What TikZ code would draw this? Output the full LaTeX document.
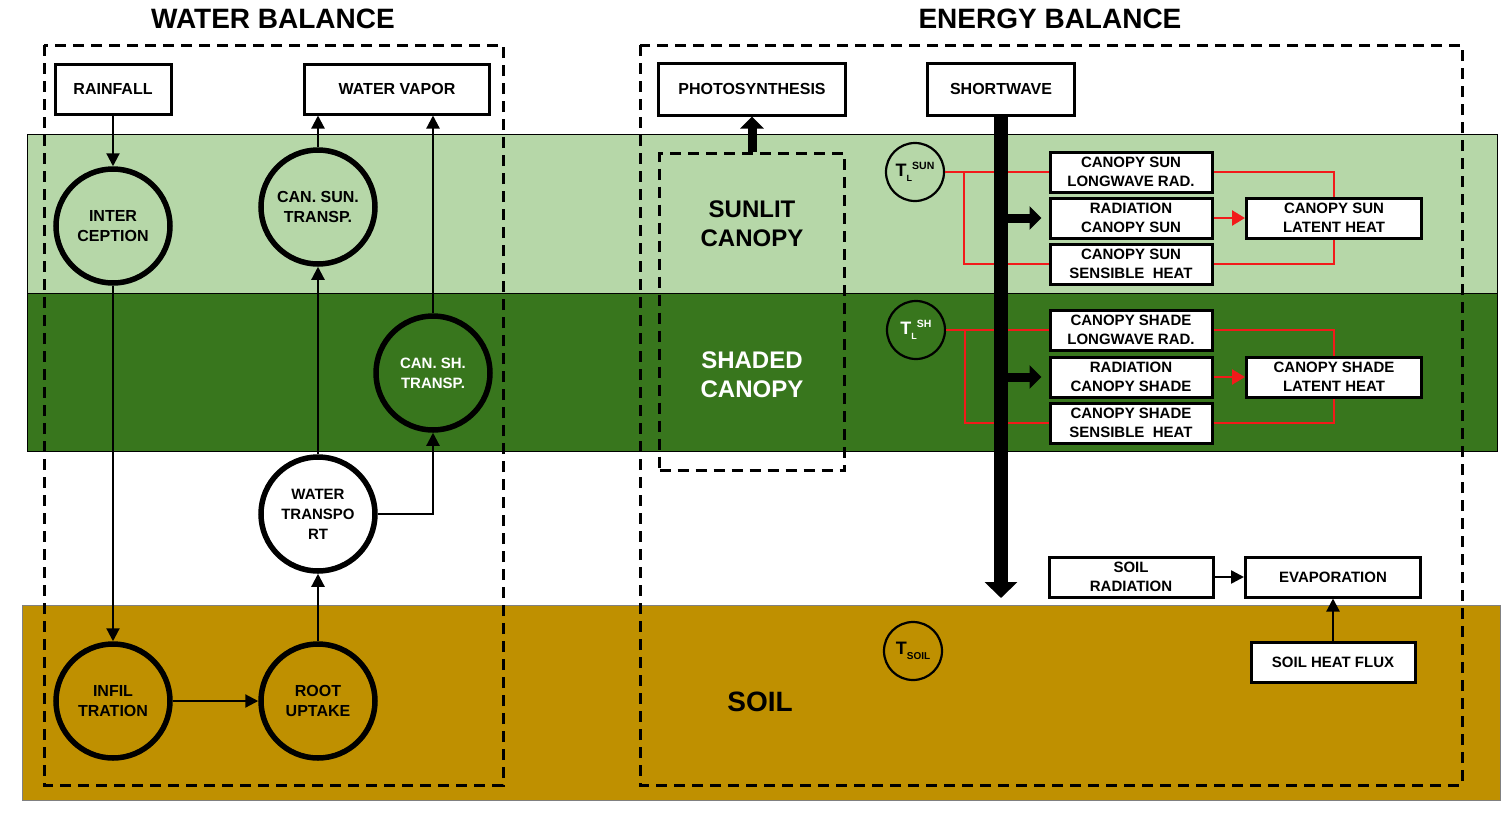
\documentclass[tikz,border=0pt]{standalone}
\usepackage{fontspec}
\setmainfont{Liberation Sans}
\usepackage{xcolor}
\usetikzlibrary{calc,arrows.meta}
\definecolor{lightleaf}{HTML}{B6D7A8}
\definecolor{darkleaf}{HTML}{38761D}
\definecolor{soilbrown}{HTML}{BF9000}
\definecolor{heatred}{HTML}{F21A1A}
\newcommand{\boxfont}{\fontsize{15}{18.5}\selectfont\bfseries}
\newcommand{\ringfont}{\fontsize{16}{20}\selectfont\bfseries}
\newcommand{\bigfont}{\fontsize{24}{29}\selectfont\bfseries}
\newcommand{\tempsym}[2]{{\fontsize{18}{18}\selectfont T}\raisebox{-5pt}{\fontsize{9}{9}\selectfont #1}\raisebox{7pt}{\fontsize{10.5}{11}\selectfont #2}}
\tikzset{
  layer/.style={draw=black,line width=0.8pt},
  dashbox/.style={draw,line width=3pt,dash pattern=on 11pt off 7pt},
  plainbox/.style={draw,line width=3pt,fill=white,inner sep=0pt,align=center,font=\boxfont},
  thickring/.style={draw,circle,line width=5.5pt,minimum size=114pt,inner sep=0pt,align=center,font=\ringfont},
  thinring/.style={draw,circle,line width=2.2pt,minimum size=58pt,inner sep=0pt,font=\bfseries},
  flowarrow/.style={line width=2.2pt,-{Triangle[length=13pt,width=13pt]}},
  heatline/.style={draw=heatred,line width=2.5pt},
  heatarrow/.style={heatred,line width=2.5pt,-{Triangle[length=13pt,width=15pt]}},
  blockarrow/.style={line width=9pt,-{Triangle[length=12pt,width=23pt]}}
}

\begin{document}
\begin{tikzpicture}[x=1pt,y=-1pt]
  % drawing parameters
  \pgfmathsetmacro{\xwa}{113} % x of left water column
  \pgfmathsetmacro{\xwb}{318} % x of middle water column
  \pgfmathsetmacro{\xwc}{433} % x of right water column
  \pgfmathsetmacro{\xeb}{1131} % x of energy boxes
  \pgfmathsetmacro{\xel}{1334} % x of latent heat boxes

  \useasboundingbox (0,0) rectangle (1510,812);

  % layers
  \draw[layer,fill=lightleaf] (27,134) rectangle (1497,293);
  \draw[layer,fill=darkleaf] (27,293) rectangle (1497,451);
  \draw[layer,draw=gray,fill=soilbrown] (22,605) rectangle (1500,800);

  % titles and frames
  \node[font=\fontsize{28}{30}\selectfont\bfseries] (wtitle) at (273,19) {WATER BALANCE};
  \node[font=\fontsize{28}{30}\selectfont\bfseries] (etitle) at (1050,19) {ENERGY BALANCE};
  \draw[dashbox] (44,45) rectangle (503,785);
  \draw[dashbox] (640,45) rectangle (1462,785);

  % water balance
  \node[plainbox,font=\fontsize{16}{19}\selectfont\bfseries,minimum width=116pt,minimum height=50pt] (rain) at (\xwa,89) {RAINFALL};
  \node[plainbox,font=\fontsize{16}{19}\selectfont\bfseries,minimum width=185pt,minimum height=50pt] (vapor) at (397,89) {WATER VAPOR};
  \node[thickring] (inter) at (\xwa,226) {INTER\\CEPTION};
  \node[thickring] (cansun) at (\xwb,207) {CAN. SUN.\\TRANSP.};
  \node[thickring,text=white,font=\fontsize{15}{20}\selectfont\bfseries] (cansh) at (\xwc,373) {CAN. SH.\\TRANSP.};
  \node[thickring,font=\fontsize{15}{20}\selectfont\bfseries] (transp) at (\xwb,514) {WATER\\TRANSPO\\RT};
  \node[thickring] (infil) at (\xwa,701) {INFIL\\TRATION};
  \node[thickring] (root) at (\xwb,701) {ROOT\\UPTAKE};

  \draw[flowarrow] (rain) -- (inter);
  \draw[flowarrow] (inter) -- (infil);
  \draw[flowarrow] (infil) -- (root);
  \draw[flowarrow] (root) -- (transp);
  \draw[flowarrow] (transp) -- (cansun);
  \draw[flowarrow] (transp.east) -| (cansh.south);
  \draw[flowarrow] (cansun.north) -- (cansun.north |- vapor.south);
  \draw[flowarrow] (cansh.north) -- (cansh.north |- vapor.south);

  % energy balance, top
  \node[plainbox,font=\fontsize{16}{19}\selectfont\bfseries,minimum width=187pt,minimum height=52pt] (photo) at (752,89) {PHOTOSYNTHESIS};
  \node[plainbox,font=\fontsize{16}{19}\selectfont\bfseries,minimum width=147pt,minimum height=52pt] (short) at (1001,89) {SHORTWAVE};
  \node[dashbox,minimum width=185pt,minimum height=317pt] (sunlit) at (752,312) {};
  \node[font=\bigfont,align=center] (sunlittext) at (752,224) {SUNLIT\\CANOPY};
  \node[font=\bigfont,align=center,text=white] (shadedtext) at (752,375) {SHADED\\CANOPY};
  \draw[blockarrow] (sunlit.north) -- (photo.south);

  % sunlit block
  \node[thinring] (tsun) at (915,172) {\tempsym{L}{SUN}};
  \node[plainbox,minimum width=162pt,minimum height=40pt] (lwsun) at (\xeb,172) {CANOPY SUN\\LONGWAVE RAD.};
  \node[plainbox,minimum width=162pt,minimum height=40pt] (radsun) at (\xeb,218) {RADIATION\\CANOPY SUN};
  \node[plainbox,minimum width=162pt,minimum height=40pt] (sensun) at (\xeb,264) {CANOPY SUN\\SENSIBLE\ \ HEAT};
  \node[plainbox,minimum width=175pt,minimum height=40pt] (latsun) at (\xel,218) {CANOPY SUN\\LATENT HEAT};
  \coordinate (sunfork) at ($(tsun.east)+(19,0)$);
  \draw[heatline] (tsun.east) -- (lwsun.west);
  \draw[heatline] (sunfork) |- (sensun.west);
  \draw[heatline] (lwsun.east) -| (latsun.north);
  \draw[heatline] (sensun.east) -| (latsun.south);
  \draw[heatarrow] (radsun) -- (latsun);

  % shaded block
  \node[thinring,text=white] (tsh) at (916,330) {\tempsym{L}{SH}};
  \node[plainbox,minimum width=162pt,minimum height=40pt] (lwsh) at (\xeb,330) {CANOPY SHADE\\LONGWAVE RAD.};
  \node[plainbox,minimum width=162pt,minimum height=40pt] (radsh) at (\xeb,377) {RADIATION\\CANOPY SHADE};
  \node[plainbox,minimum width=162pt,minimum height=40pt] (sensh) at (\xeb,423) {CANOPY SHADE\\SENSIBLE\ \ HEAT};
  \node[plainbox,minimum width=175pt,minimum height=40pt] (latsh) at (\xel,377) {CANOPY SHADE\\LATENT HEAT};
  \coordinate (shfork) at ($(tsh.east)+(19,0)$);
  \draw[heatline] (tsh.east) -- (lwsh.west);
  \draw[heatline] (shfork) |- (sensh.west);
  \draw[heatline] (lwsh.east) -| (latsh.north);
  \draw[heatline] (sensh.east) -| (latsh.south);
  \draw[heatarrow] (radsh) -- (latsh);

  % shortwave beam
  \coordinate (beamend) at (1001,598);
  \draw[line width=14pt,-{Triangle[length=16pt,width=32pt]}] (short.south) -- (beamend);
  \coordinate (sunhit) at ($(radsun.west)+(-7,0)$);
  \coordinate (shhit) at ($(radsh.west)+(-7,0)$);
  \draw[blockarrow] (sunhit -| short.south) -- (sunhit);
  \draw[blockarrow] (shhit -| short.south) -- (shhit);

  % soil block
  \node[thinring] (tsoil) at (913,651) {{\fontsize{18}{18}\selectfont T}\raisebox{-5pt}{\fontsize{10}{10}\selectfont SOIL}};
  \node[font=\fontsize{28}{30}\selectfont\bfseries] (soiltext) at (760,702) {SOIL};
  \node[plainbox,minimum width=164pt,minimum height=40pt] (soilrad) at (\xeb,577) {SOIL\\RADIATION};
  \node[plainbox,minimum width=175pt,minimum height=40pt] (evap) at (1333,577) {EVAPORATION};
  \node[plainbox,minimum width=164pt,minimum height=40pt] (flux) at (1333,662) {SOIL HEAT FLUX};
  \draw[flowarrow,line width=2.5pt] (soilrad) -- (evap);
  \draw[flowarrow] (flux) -- (evap);
\end{tikzpicture}
\end{document}
